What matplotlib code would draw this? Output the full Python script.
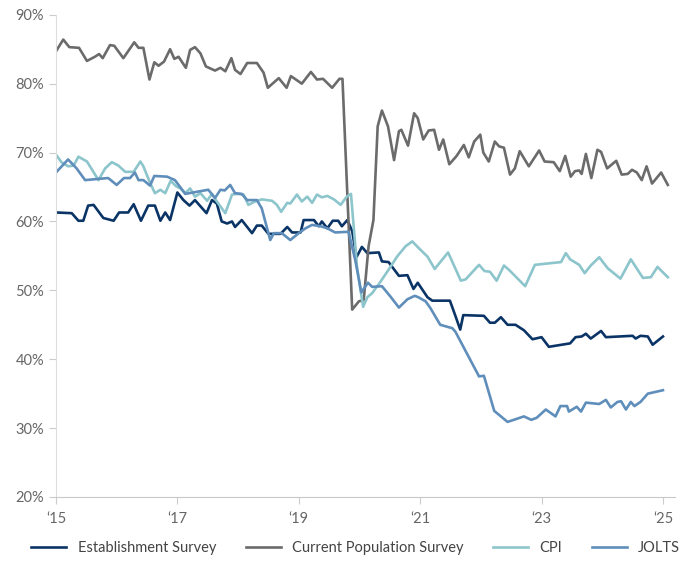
import matplotlib.pyplot as plt

plt.rcParams['font.family'] = ['Lato', 'DejaVu Sans']

# response rates, decimal year / percent
est_t = [2015.00, 2015.26, 2015.37, 2015.45, 2015.53, 2015.62, 2015.78, 2015.95, 2016.04, 2016.19,
         2016.28, 2016.40, 2016.52, 2016.63, 2016.72, 2016.80, 2016.88, 2017.00, 2017.10, 2017.20,
         2017.29, 2017.48, 2017.57, 2017.65, 2017.73, 2017.82, 2017.90, 2017.95, 2018.06, 2018.23,
         2018.31, 2018.39, 2018.50, 2018.70, 2018.81, 2018.89, 2019.03, 2019.08, 2019.25, 2019.33,
         2019.38, 2019.47, 2019.56, 2019.65, 2019.71, 2019.80, 2019.88, 2019.95, 2020.04, 2020.13,
         2020.32, 2020.37, 2020.48, 2020.65, 2020.79, 2020.89, 2020.96, 2021.12, 2021.20, 2021.49,
         2021.58, 2021.66, 2021.71, 2022.05, 2022.15, 2022.23, 2022.33, 2022.44, 2022.57, 2022.71,
         2022.85, 2023.00, 2023.12, 2023.47, 2023.56, 2023.66, 2023.73, 2023.81, 2023.98, 2024.06,
         2024.50, 2024.55, 2024.63, 2024.75, 2024.83, 2025.00]
est_v = [61.3, 61.2, 60.1, 60.1, 62.3, 62.4, 60.5, 60.1, 61.3, 61.3,
         62.5, 60.1, 62.3, 62.3, 60.1, 61.3, 60.2, 64.2, 63.1, 62.3,
         63.1, 61.2, 63.1, 62.6, 60.0, 59.7, 60.0, 59.2, 60.2, 58.3,
         59.4, 59.4, 58.2, 58.2, 59.2, 58.4, 58.4, 60.2, 60.2, 59.3,
         60.0, 59.0, 60.1, 60.1, 59.3, 60.2, 58.6, 54.8, 56.3, 55.4,
         55.5, 54.2, 54.1, 52.1, 52.2, 50.2, 51.1, 49.0, 48.5, 48.5,
         46.3, 44.3, 46.4, 46.3, 45.3, 45.3, 46.1, 45.0, 45.0, 44.2,
         42.9, 43.2, 41.8, 42.3, 43.2, 43.3, 43.7, 43.0, 44.1, 43.2,
         43.4, 43.0, 43.4, 43.3, 42.1, 43.3]

cps_t = [2015.00, 2015.12, 2015.22, 2015.38, 2015.51, 2015.64, 2015.71, 2015.77, 2015.89, 2015.96,
         2016.11, 2016.29, 2016.36, 2016.44, 2016.54, 2016.62, 2016.69, 2016.78, 2016.88, 2016.95,
         2017.02, 2017.14, 2017.21, 2017.29, 2017.38, 2017.47, 2017.62, 2017.71, 2017.79, 2017.89,
         2017.95, 2018.04, 2018.15, 2018.31, 2018.42, 2018.49, 2018.67, 2018.80, 2018.87, 2019.05,
         2019.20, 2019.30, 2019.40, 2019.55, 2019.67, 2019.72, 2019.88, 2019.99, 2020.07, 2020.15,
         2020.23, 2020.30, 2020.37, 2020.47, 2020.57, 2020.65, 2020.69, 2020.80, 2020.90, 2020.96,
         2021.05, 2021.14, 2021.23, 2021.31, 2021.38, 2021.48, 2021.60, 2021.72, 2021.80, 2021.89,
         2021.99, 2022.04, 2022.13, 2022.23, 2022.30, 2022.38, 2022.48, 2022.56, 2022.64, 2022.79,
         2022.96, 2023.05, 2023.20, 2023.30, 2023.39, 2023.48, 2023.55, 2023.62, 2023.66, 2023.73,
         2023.82, 2023.92, 2023.98, 2024.08, 2024.23, 2024.32, 2024.42, 2024.49, 2024.57, 2024.65,
         2024.73, 2024.82, 2024.97, 2025.08]
cps_v = [84.7, 86.4, 85.3, 85.2, 83.3, 83.9, 84.3, 83.7, 85.6, 85.5,
         83.7, 86.0, 85.2, 85.2, 80.6, 83.1, 82.6, 83.2, 85.0, 83.6,
         83.9, 82.3, 84.9, 85.3, 84.4, 82.5, 81.9, 82.3, 81.8, 83.7,
         82.0, 81.4, 83.0, 83.0, 81.6, 79.4, 80.8, 79.4, 81.1, 80.0,
         81.7, 80.6, 80.7, 79.4, 80.7, 80.7, 47.2, 48.4, 48.6, 56.4,
         60.2, 73.8, 76.1, 73.8, 68.9, 73.1, 73.3, 71.0, 75.7, 75.0,
         71.9, 73.2, 73.3, 70.4, 71.9, 68.3, 69.5, 71.1, 69.3, 71.6,
         72.6, 70.0, 68.7, 71.6, 70.9, 70.7, 66.8, 67.7, 70.2, 68.0,
         70.3, 68.7, 68.6, 67.3, 69.5, 66.5, 67.3, 67.4, 66.9, 69.8,
         66.3, 70.4, 70.1, 67.7, 68.8, 66.8, 66.9, 67.5, 67.1, 66.0,
         68.0, 65.5, 67.1, 65.3]

cpi_t = [2015.00, 2015.09, 2015.20, 2015.29, 2015.37, 2015.51, 2015.56, 2015.70, 2015.81, 2015.92,
         2016.03, 2016.14, 2016.28, 2016.39, 2016.44, 2016.55, 2016.63, 2016.72, 2016.80, 2016.89,
         2016.98, 2017.05, 2017.13, 2017.21, 2017.29, 2017.38, 2017.49, 2017.57, 2017.65, 2017.79,
         2017.90, 2017.98, 2018.09, 2018.17, 2018.28, 2018.39, 2018.56, 2018.64, 2018.71, 2018.81,
         2018.86, 2018.97, 2019.05, 2019.14, 2019.22, 2019.30, 2019.38, 2019.47, 2019.58, 2019.69,
         2019.79, 2019.86, 2019.96, 2020.06, 2020.13, 2020.21, 2020.35, 2020.48, 2020.62, 2020.76,
         2020.87, 2020.98, 2021.12, 2021.24, 2021.34, 2021.46, 2021.67, 2021.75, 2021.97, 2022.06,
         2022.15, 2022.26, 2022.38, 2022.46, 2022.73, 2022.89, 2023.32, 2023.40, 2023.47, 2023.62,
         2023.71, 2023.81, 2023.95, 2024.09, 2024.30, 2024.47, 2024.67, 2024.80, 2024.91, 2025.08]
cpi_v = [69.7, 68.6, 68.0, 68.1, 69.4, 68.7, 68.0, 66.0, 67.7, 68.6,
         68.1, 67.2, 67.2, 68.7, 68.0, 65.6, 64.1, 64.6, 64.1, 65.9,
         65.1, 64.8, 64.1, 64.8, 63.6, 64.1, 63.0, 64.0, 62.9, 61.2,
         63.9, 64.0, 63.9, 62.4, 62.9, 63.2, 63.0, 62.4, 61.4, 62.7,
         62.6, 63.9, 62.9, 63.6, 62.7, 63.9, 63.5, 63.7, 63.2, 62.4,
         63.6, 64.0, 53.4, 47.6, 49.0, 49.6, 51.3, 53.0, 54.9, 56.4,
         57.1, 56.1, 54.9, 53.1, 54.2, 55.5, 51.4, 51.6, 53.7, 52.8,
         52.7, 51.4, 53.6, 53.0, 50.6, 53.7, 54.1, 55.4, 54.5, 53.7,
         52.5, 53.6, 54.8, 53.2, 51.7, 54.5, 51.8, 51.9, 53.4, 51.9]

jolts_t = [2015.01, 2015.20, 2015.34, 2015.48, 2015.86, 2016.00, 2016.12, 2016.22, 2016.30, 2016.36,
           2016.44, 2016.55, 2016.62, 2016.83, 2016.96, 2017.13, 2017.51, 2017.62, 2017.71, 2017.78,
           2017.87, 2017.95, 2018.06, 2018.15, 2018.31, 2018.39, 2018.53, 2018.59, 2018.72, 2018.86,
           2019.00, 2019.11, 2019.22, 2019.36, 2019.47, 2019.60, 2019.82, 2019.93, 2020.03, 2020.14,
           2020.21, 2020.37, 2020.51, 2020.65, 2020.79, 2020.91, 2020.97, 2021.09, 2021.17, 2021.33,
           2021.53, 2021.58, 2021.97, 2022.05, 2022.22, 2022.44, 2022.71, 2022.83, 2022.92, 2023.07,
           2023.23, 2023.31, 2023.42, 2023.45, 2023.58, 2023.65, 2023.73, 2023.95, 2024.06, 2024.14,
           2024.25, 2024.31, 2024.39, 2024.47, 2024.53, 2024.63, 2024.75, 2025.00]
jolts_v = [67.2, 69.0, 67.7, 66.0, 66.3, 65.3, 66.3, 66.3, 67.1, 66.0,
           66.0, 65.2, 66.6, 66.5, 66.0, 64.0, 64.6, 63.4, 64.6, 64.5,
           65.3, 64.1, 64.0, 63.1, 63.1, 61.9, 57.3, 58.3, 58.3, 57.3,
           58.3, 59.0, 59.5, 59.3, 59.0, 58.4, 58.5, 54.4, 49.7, 51.1,
           50.5, 50.6, 49.1, 47.5, 48.7, 49.2, 49.0, 48.4, 47.4, 45.0,
           44.5, 44.0, 37.5, 37.6, 32.5, 30.9, 31.7, 31.2, 31.5, 32.7,
           31.7, 33.2, 33.2, 32.4, 33.1, 32.4, 33.7, 33.5, 34.1, 33.0,
           33.8, 33.9, 32.7, 33.8, 33.2, 33.8, 35.0, 35.5]

years = [2015, 2017, 2019, 2021, 2023, 2025]
year_labels = ["\u201815", "\u201817", "\u201819", "\u201821", "\u201823", "\u201825"]
y_ticks = [20, 30, 40, 50, 60, 70, 80, 90]

fig = plt.figure(figsize=(6.91, 5.68), dpi=100)
ax = fig.add_axes([0.081, 0.125, 0.896, 0.849])

ax.plot(est_t, est_v, color='#0b3466', lw=1.9, label='Establishment Survey')
ax.plot(cps_t, cps_v, color='#6b6b6b', lw=1.9, label='Current Population Survey')
ax.plot(cpi_t, cpi_v, color='#8cc5cb', lw=1.9, label='CPI')
ax.plot(jolts_t, jolts_v, color='#5f8ebb', lw=1.9, label='JOLTS')

ax.set_xlim(2015, 2025.2)
ax.set_ylim(20, 90)
ax.set_xticks(years)
ax.set_xticklabels(year_labels)
ax.set_yticks(y_ticks)
ax.set_yticklabels([f"{v}%" for v in y_ticks])

for s in ['top', 'right']:
    ax.spines[s].set_visible(False)
ax.spines['left'].set_color('#dddddd')
ax.spines['bottom'].set_color('#c8c8c8')
ax.tick_params(axis='both', colors='#cccccc', labelcolor='#666666', labelsize=10.5, length=5)
ax.tick_params(axis='x', pad=6)

fig.legend(loc='lower center', bbox_to_anchor=(0.515, 0.0), ncol=4, frameon=False,
           fontsize=10.5, handlelength=2.4, columnspacing=2.0, labelcolor='#444444')

fig.savefig('out.png', dpi=100)
